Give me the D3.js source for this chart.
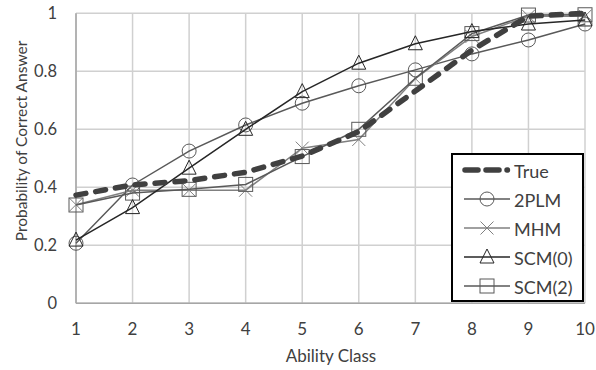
<!DOCTYPE html>
<html>
<head>
<meta charset="utf-8">
<script src="https://cdn.jsdelivr.net/npm/d3@7"></script>
<style>
body { margin: 0; background: #fff; }
text { font-family: Lato, "Noto Sans", sans-serif; fill: #404040; }
</style>
</head>
<body>
<script>
// ability classes on the x axis
var classes = [1, 2, 3, 4, 5, 6, 7, 8, 9, 10];
var yTicks = [0, 0.2, 0.4, 0.6, 0.8, 1];

// probability of correct answer per model
var trueVals = [0.373, 0.408, 0.423, 0.452, 0.508, 0.592, 0.732, 0.873, 0.99, 1.0];
var plm2 = [0.207, 0.408, 0.525, 0.615, 0.69, 0.75, 0.805, 0.86, 0.908, 0.963];
var mhm = [0.34, 0.39, 0.39, 0.39, 0.535, 0.565, 0.775, 0.92, 0.99, 0.99];
var scm0 = [0.218, 0.33, 0.466, 0.6, 0.73, 0.828, 0.895, 0.937, 0.963, 0.977];
var scm2 = [0.339, 0.38, 0.393, 0.41, 0.506, 0.6, 0.776, 0.93, 0.994, 0.995];

var series = [
  {name: "True", values: trueVals, color: "#404040", width: 5.5, dash: "10,10", marker: null},
  {name: "2PLM", values: plm2, color: "#595959", width: 1.5, marker: "circle"},
  {name: "MHM", values: mhm, color: "#808080", width: 1.5, marker: "cross"},
  {name: "SCM(0)", values: scm0, color: "#262626", width: 1.5, marker: "triangle"},
  {name: "SCM(2)", values: scm2, color: "#595959", width: 1.5, marker: "square"}
];

var width = 596, height = 370;
var svg = d3.select("body").append("svg")
  .attr("width", width)
  .attr("height", height);

var x = d3.scaleLinear().domain([1, 10]).range([76, 585]);
var y = d3.scaleLinear().domain([0, 1]).range([303.3, 13.3]);

// gridlines
svg.append("g").selectAll("line")
  .data(classes)
  .enter().append("line")
  .attr("x1", function(d){ return x(d); })
  .attr("x2", function(d){ return x(d); })
  .attr("y1", y(0)).attr("y2", y(1))
  .attr("stroke", "#d0d0d0").attr("stroke-width", 1.5);

svg.append("g").selectAll("line")
  .data(yTicks)
  .enter().append("line")
  .attr("x1", x(1)).attr("x2", x(10))
  .attr("y1", function(d){ return y(d); })
  .attr("y2", function(d){ return y(d); })
  .attr("stroke", "#d0d0d0").attr("stroke-width", 1.5);

// axis lines
svg.append("line").attr("x1", x(1)).attr("x2", x(1)).attr("y1", y(0)).attr("y2", y(1))
  .attr("stroke", "#a6a6a6").attr("stroke-width", 1.5);
svg.append("line").attr("x1", x(1)).attr("x2", x(10)).attr("y1", y(0)).attr("y2", y(0))
  .attr("stroke", "#a6a6a6").attr("stroke-width", 1.5);

// tick labels
svg.append("g").selectAll("text")
  .data(classes)
  .enter().append("text")
  .attr("x", function(d){ return x(d); })
  .attr("y", 335)
  .attr("text-anchor", "middle")
  .attr("font-size", 17)
  .text(function(d){ return d; });

svg.append("g").selectAll("text")
  .data(yTicks)
  .enter().append("text")
  .attr("x", 57)
  .attr("y", function(d){ return y(d) + 6; })
  .attr("text-anchor", "end")
  .attr("font-size", 16.5)
  .text(function(d){ return d; });

svg.append("text")
  .attr("x", 331).attr("y", 362)
  .attr("text-anchor", "middle")
  .attr("font-size", 17)
  .text("Ability Class");

svg.append("text")
  .attr("transform", "translate(27," + 141 + ") rotate(-90)")
  .attr("text-anchor", "middle")
  .attr("font-size", 15.5)
  .text("Probability of Correct Answer");

// markers
function drawMarker(g, type, cx, cy, color) {
  if (type == "circle") {
    g.append("circle").attr("cx", cx).attr("cy", cy).attr("r", 7)
      .attr("fill", "none").attr("stroke", color).attr("stroke-width", 1);
  } else if (type == "cross") {
    var s = 6.5;
    g.append("path")
      .attr("d", "M" + (cx - s) + "," + (cy - s) + "L" + (cx + s) + "," + (cy + s) +
                 "M" + (cx - s) + "," + (cy + s) + "L" + (cx + s) + "," + (cy - s))
      .attr("stroke", color).attr("stroke-width", 1).attr("fill", "none");
  } else if (type == "triangle") {
    g.append("path")
      .attr("d", "M" + cx + "," + (cy - 8) + "L" + (cx + 7) + "," + (cy + 6) + "L" + (cx - 7) + "," + (cy + 6) + "Z")
      .attr("stroke", color).attr("stroke-width", 1).attr("fill", "none");
  } else if (type == "square") {
    g.append("rect").attr("x", cx - 7).attr("y", cy - 7).attr("width", 14).attr("height", 14)
      .attr("stroke", color).attr("stroke-width", 1).attr("fill", "none");
  }
}

var line = d3.line()
  .x(function(d, i){ return x(classes[i]); })
  .y(function(d){ return y(d); });

// model lines first, True dashed on top
var order = [1, 2, 4, 3, 0];
order.forEach(function(k) {
  var s = series[k];
  var g = svg.append("g");
  g.append("path")
    .attr("d", line(s.values))
    .attr("fill", "none")
    .attr("stroke", s.color)
    .attr("stroke-width", s.width)
    .attr("stroke-dasharray", s.dash || null)
    .attr("stroke-linecap", s.dash ? "round" : "butt");
  if (s.marker) {
    s.values.forEach(function(v, i) {
      drawMarker(g, s.marker, x(classes[i]), y(v), s.color);
    });
  }
});

// legend
var lg = svg.append("g");
lg.append("rect")
  .attr("x", 452).attr("y", 154).attr("width", 131).attr("height", 147)
  .attr("fill", "#fff").attr("stroke", "#000").attr("stroke-width", 2);

series.forEach(function(s, i) {
  var ly = 170 + i * 29;
  lg.append("line")
    .attr("x1", s.dash ? 465 : 464).attr("x2", s.dash ? 507.5 : 510)
    .attr("y1", ly).attr("y2", ly)
    .attr("stroke", s.color)
    .attr("stroke-width", s.width)
    .attr("stroke-dasharray", s.dash ? "13,8" : null)
    .attr("stroke-linecap", s.dash ? "round" : "butt");
  if (s.marker) drawMarker(lg, s.marker, 487, ly, s.color);
  lg.append("text")
    .attr("x", 514).attr("y", ly + 8)
    .attr("font-size", 18)
    .text(s.name);
});
</script>
</body>
</html>
